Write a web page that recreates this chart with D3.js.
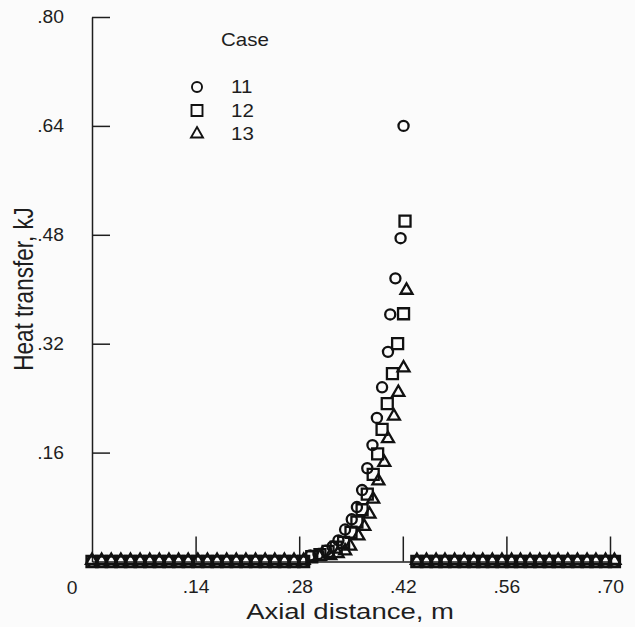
<!DOCTYPE html>
<html>
<head>
<meta charset="utf-8">
<script src="https://cdn.jsdelivr.net/npm/d3@7"></script>
<style>
  body { margin: 0; background: #fbfbfb; }
  text { font-family: "Liberation Sans", Arial, sans-serif; fill: #1e1e1e; }
</style>
</head>
<body>
<script>
// Tick values
var xTicks = [0.14, 0.28, 0.42, 0.56, 0.70];
var yTicks = [0.16, 0.32, 0.48, 0.64, 0.80];

// Points sitting on zero at both ends (all three cases)
var baseLeftX = [0, .013, .026, .039, .052, .065, .078, .091, .104, .117, .130, .143,
    .156, .169, .182, .195, .208, .221, .234, .247, .260, .273, .286];
var baseRightX = [.439, .452, .465, .477, .490, .503, .516, .528, .541, .554, .567, .579,
    .592, .605, .618, .630, .643, .656, .669, .681, .694, .706];

// Case 11 (circles) rising part
var case11X = [.295, .306, .316, .325, .333, .342, .351, .358, .365, .372, .379, .385, .392, .400, .403, .410, .417, .421];
var case11Y = [.009, .011, .016, .022, .031, .047, .062, .080, .105, .137, .171, .211, .256, .308, .363, .416, .475, .640];

// Case 12 (squares)
var case12X = [.297, .308, .319, .330, .340, .350, .358, .365, .372, .380, .386, .392, .399, .406, .413, .421, .423];
var case12Y = [.007, .010, .015, .021, .028, .043, .058, .076, .099, .128, .158, .194, .232, .276, .320, .364, .500];

// Case 13 (triangles)
var case13X = [.308, .322, .332, .342, .349, .360, .368, .375, .380, .387, .395, .400, .408, .414, .421, .425];
var case13Y = [.006, .007, .010, .014, .021, .036, .050, .068, .090, .117, .144, .179, .212, .247, .283, .397];

var caseNames = ["11", "12", "13"];

var width = 635,
    height = 627;

// The scanned figure's lettering is a bit wider than Arial
var tickStretch = 1.07,
    legendStretch = 1.14,
    titleStretch = 1.25;

var svg = d3.select("body")
    .append("svg")
    .attr("width", width)
    .attr("height", height);

var x = d3.scaleLinear().domain([0, 0.70]).range([92, 610]);
var y = d3.scaleLinear().domain([0, 0.80]).range([561.5, 17]);

var fmt = function(d){ return d3.format(".2f")(d).replace(/^0/, ""); };

// Axes
var xAxis = svg.append("g")
    .attr("transform", "translate(0," + y(0) + ")")
    .call(d3.axisBottom(x).tickValues(xTicks).tickSizeInner(-25).tickSizeOuter(0).tickFormat(fmt));
xAxis.select(".domain").attr("stroke", "#1e1e1e").attr("stroke-width", 1.5);
xAxis.selectAll(".tick line").attr("stroke", "#1e1e1e").attr("stroke-width", 1.5);
xAxis.selectAll(".tick text")
    .attr("y", 19)
    .attr("dy", "0.71em")
    .attr("transform", "scale(" + tickStretch + ",1)")
    .style("font-size", "18px");

var yAxis = svg.append("g")
    .attr("transform", "translate(" + x(0) + ",0)")
    .call(d3.axisLeft(y).tickValues(yTicks).tickSizeInner(-18).tickSizeOuter(0).tickFormat(fmt));
yAxis.select(".domain").attr("stroke", "#1e1e1e").attr("stroke-width", 1.5);
yAxis.selectAll(".tick line").attr("stroke", "#1e1e1e").attr("stroke-width", 1.5);
yAxis.selectAll(".tick text")
    .attr("x", -28 / tickStretch)
    .attr("transform", "scale(" + tickStretch + ",1)")
    .style("font-size", "18px");

// Shared origin label
svg.append("text")
    .attr("transform", "translate(72,594) scale(" + tickStretch + ",1)")
    .attr("text-anchor", "middle")
    .style("font-size", "18px")
    .text("0");

// Axis titles
svg.append("text")
    .attr("transform", "translate(350,619) scale(" + titleStretch + ",1)")
    .attr("text-anchor", "middle")
    .style("font-size", "22px")
    .text("Axial distance, m");

svg.append("text")
    .attr("transform", "translate(33,289) scale(" + titleStretch + ",1) rotate(-90)")
    .attr("text-anchor", "middle")
    .style("font-size", "22.5px")
    .text("Heat transfer, kJ");

// Symbols
var symbols = [
    d3.symbol().type(d3.symbolCircle).size(80),
    d3.symbol().type(d3.symbolSquare).size(121),
    d3.symbol().type(d3.symbolTriangle).size(62)
];

function seriesPoints(xs, ys){
    var pts = [];
    baseLeftX.forEach(function(v){ pts.push([v, 0]); });
    xs.forEach(function(v, i){ pts.push([v, ys[i]]); });
    baseRightX.forEach(function(v){ pts.push([v, 0]); });
    return pts;
}

var series = [
    seriesPoints(case11X, case11Y),
    seriesPoints(case12X, case12Y),
    seriesPoints(case13X, case13Y)
];

series.forEach(function(pts, i){
    svg.append("g")
        .selectAll("path")
        .data(pts)
        .enter()
        .append("path")
        .attr("d", symbols[i])
        .attr("transform", function(d){ return "translate(" + x(d[0]) + "," + (y(d[1]) - (i === 2 ? 1 : 0)) + ")"; })
        .attr("fill", "none")
        .attr("stroke", "#111")
        .attr("stroke-width", 2.3);
});

// Legend
svg.append("text")
    .attr("transform", "translate(221,46) scale(" + legendStretch + ",1)")
    .style("font-size", "18px")
    .text("Case");

var legend = svg.selectAll(".legend")
    .data(caseNames)
    .enter()
    .append("g")
    .attr("class", "legend")
    .attr("transform", function(d, i){ return "translate(197," + (87 + i * 23.5) + ")"; });

legend.append("path")
    .attr("d", function(d, i){ return symbols[i](); })
    .attr("fill", "none")
    .attr("stroke", "#111")
    .attr("stroke-width", 1.9);

legend.append("text")
    .attr("transform", "translate(34,0) scale(" + legendStretch + ",1)")
    .attr("dy", "0.36em")
    .style("font-size", "18px")
    .text(function(d){ return d; });
</script>
</body>
</html>
